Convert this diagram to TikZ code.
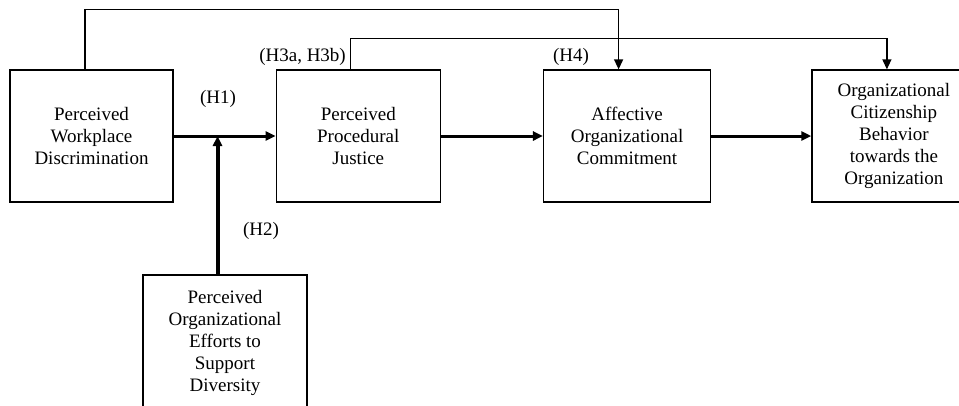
\documentclass[tikz,border=0pt]{standalone}
\usepackage{fontspec}
\setmainfont{Liberation Serif}
\usepackage{tikz}
\usetikzlibrary{arrows.meta,positioning,calc}
\tikzset{
  >={Triangle[length=10pt,width=9pt]},
  construct/.style={draw, line width=1.3pt, rectangle, minimum height=132pt, minimum width=164pt, align=center, inner sep=2pt},
  hyp/.style={inner sep=1pt},
  path/.style={->, line width=3pt},
  link/.style={->, line width=1.3pt},
}

\begin{document}
\begin{tikzpicture}[x=1pt, y=-1pt, node distance=102pt, font=\fontsize{19}{22}\selectfont]
  \path[use as bounding box, clip] (0,0) rectangle (959,405);
  % nodes
  \node[construct, minimum width=163pt] (disc) at (91.5,136) {Perceived\\Workplace\\Discrimination};
  \node[construct, right=of disc] (just) {Perceived\\Procedural\\Justice};
  \node[construct, right=of just, minimum width=167pt] (comm) {Affective\\Organizational\\Commitment};
  \node[construct, right=100pt of comm] (ocb) {Organizational\\Citizenship\\Behavior\\towards the\\Organization};
  \node[construct, minimum height=135pt] (effort) at (225,342.5) {Perceived\\Organizational\\Efforts to\\Support\\Diversity};

  % connections
  \draw[path] (disc.east) -- coordinate[pos=0.43] (tap) (just.west);
  \draw[path] (just.east) -- (comm.west);
  \draw[path] (comm.east) -- (ocb.west);
  % moderator into the H1 path
  \draw[->, line width=4pt] (tap |- effort.north) -- (tap);

  % direct paths over the top
  \draw[link] ([xshift=-6.5pt]disc.north) -- ++(0,-60) -| ([xshift=-8.5pt]comm.north);
  \draw[link] ([xshift=-8pt]just.north) -- ++(0,-31) -| ([xshift=-7pt]ocb.north);

  % hypothesis labels
  \node[hyp] (h1) at (218,99) {(H1)};
  \node[hyp] (h2) at (261,231) {(H2)};
  \node[hyp, anchor=east] (h3) at (347,57) {(H3a, H3b)};
  \node[hyp] (h4) at (571,57) {(H4)};
\end{tikzpicture}
\end{document}
